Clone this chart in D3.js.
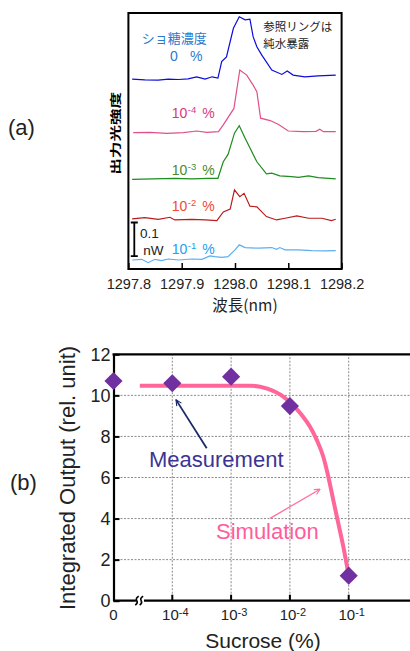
<!DOCTYPE html>
<html>
<head>
<meta charset="utf-8">
<script src="https://cdn.jsdelivr.net/npm/d3@7"></script>
<style>
  body { margin: 0; background: #fff; }
  svg { display: block; font-family: "Liberation Sans", Arial, sans-serif; }
  .jp { font-family: "Noto Sans CJK JP", sans-serif; }
</style>
</head>
<body>
<div id="chart"></div>
<script>
// ---- data (a): spectra, [wavelength nm, intensity nW above own baseline]
var trace0 = [[1297.807, 0.001], [1297.831, -0.001], [1297.856, -0.002], [1297.875, 0.001], [1297.894, 0.000],
  [1297.912, 0.002], [1297.928, 0.008], [1297.944, 0.001], [1297.957, 0.008], [1297.968, 0.004],
  [1297.975, 0.053], [1297.984, 0.067], [1297.997, 0.152], [1298.008, 0.186], [1298.019, 0.177],
  [1298.028, 0.179], [1298.034, 0.127], [1298.041, 0.097], [1298.050, 0.073], [1298.069, 0.028],
  [1298.088, 0.015], [1298.098, 0.025], [1298.109, 0.013], [1298.131, 0.008], [1298.156, 0.011], [1298.189, 0.013]];
var trace4 = [[1297.809, 0.000], [1297.841, 0.001], [1297.872, -0.002], [1297.903, 0.000], [1297.928, 0.005],
  [1297.947, 0.001], [1297.969, 0.003], [1297.978, 0.023], [1297.998, 0.072], [1298.009, 0.186],
  [1298.022, 0.171], [1298.034, 0.141], [1298.041, 0.122], [1298.048, 0.043], [1298.066, 0.036],
  [1298.081, 0.025], [1298.100, 0.005], [1298.128, 0.003], [1298.152, 0.004], [1298.159, 0.010],
  [1298.166, 0.003], [1298.189, 0.003]];
var trace3 = [[1297.807, 0.000], [1297.887, 0.003], [1297.919, 0.001], [1297.950, 0.003], [1297.968, 0.003],
  [1297.978, 0.052], [1297.987, 0.074], [1297.999, 0.137], [1298.008, 0.159], [1298.019, 0.122],
  [1298.041, 0.052], [1298.059, 0.016], [1298.069, 0.018], [1298.084, 0.010], [1298.106, 0.008],
  [1298.119, 0.006], [1298.138, 0.010], [1298.156, 0.005], [1298.189, 0.001]];
var trace2 = [[1297.807, 0.001], [1297.831, 0.005], [1297.856, 0.000], [1297.878, 0.006], [1297.887, -0.002],
  [1297.919, 0.000], [1297.944, -0.002], [1297.966, -0.004], [1297.978, 0.022], [1297.991, 0.030],
  [1297.999, 0.087], [1298.009, 0.067], [1298.017, 0.077], [1298.028, 0.039], [1298.041, 0.037],
  [1298.059, 0.008], [1298.078, -0.002], [1298.094, 0.003], [1298.116, 0.010], [1298.138, 0.003],
  [1298.163, 0.003], [1298.181, -0.004], [1298.189, 0.000]];
var trace1 = [[1297.807, 0.000], [1297.825, 0.002], [1297.837, -0.008], [1297.850, 0.002], [1297.862, -0.002],
  [1297.875, 0.003], [1297.894, 0.000], [1297.919, 0.003], [1297.938, 0.002], [1297.953, 0.012],
  [1297.962, 0.010], [1297.975, 0.008], [1297.987, 0.010], [1298.000, 0.030], [1298.008, 0.045],
  [1298.019, 0.037], [1298.044, 0.035], [1298.069, 0.037], [1298.078, 0.032], [1298.084, 0.037],
  [1298.094, 0.030], [1298.119, 0.030], [1298.144, 0.028], [1298.169, 0.027], [1298.189, 0.028]];

var traces = [trace0, trace4, trace3, trace2, trace1];
var traceOffsets = [0.5626, 0.4047, 0.2663, 0.1476, 0.0267];
var traceColors = ["#0c0cdc", "#e0508a", "#1e8c1e", "#b81c1c", "#5aaef2"];
var wlTicks = [1297.8, 1297.9, 1298.0, 1298.1, 1298.2];

// ---- data (b): integrated output vs sucrose
var sucrose = [0, 1e-4, 1e-3, 1e-2, 1e-1];
var measured = [10.70, 10.59, 10.91, 9.48, 1.22];
var simX = [2.8e-5, 2.1e-3, 4.0e-3, 7.7e-3, 1.59e-2, 2.2e-2, 2.86e-2, 3.7e-2, 4.5e-2, 5.47e-2, 6.65e-2, 8.1e-2, 1e-1];
var simY = [10.47, 10.47, 10.34, 9.94, 9.04, 8.47, 7.83, 7.01, 6.04, 4.90, 3.77, 2.63, 1.22];
var yTicksB = [0, 2, 4, 6, 8, 10, 12];
var xExpB = [-4, -3, -2, -1];

var W = 410, H = 651;
var svg = d3.select("#chart").append("svg")
    .attr("width", W)
    .attr("height", H);

svg.append("defs").selectAll("marker")
    .data([["arrNavy", "#1a2a6a"], ["arrPink", "#ff6fa0"]])
    .enter().append("marker")
    .attr("id", function (d) { return d[0]; })
    .attr("viewBox", "0 0 10 10")
    .attr("refX", 9).attr("refY", 5)
    .attr("markerWidth", 7).attr("markerHeight", 7)
    .attr("markerUnits", "userSpaceOnUse")
    .attr("orient", "auto")
    .append("path")
    .attr("d", "M1,1 L9,5 L1,9")
    .attr("fill", "none")
    .attr("stroke", function (d) { return d[1]; })
    .attr("stroke-width", 1.6);

// ================= panel (a) =================
var xA = d3.scaleLinear().domain([1297.8, 1298.2]).range([128.4, 341.6]);
var yA = d3.scaleLinear().domain([0, 0.76]).range([269, 13]);

var panelA = svg.append("g");

var axA = panelA.append("g")
    .attr("transform", "translate(0," + yA(0) + ")")
    .call(d3.axisBottom(xA).tickValues(wlTicks).tickSizeInner(-6).tickSizeOuter(0)
        .tickPadding(10).tickFormat(d3.format(".1f")));
axA.select(".domain").remove();
axA.selectAll(".tick line").attr("stroke", "#000").attr("stroke-width", 1.5);
axA.selectAll(".tick text").attr("font-size", 14.5).attr("fill", "#222")
    .attr("font-family", "Liberation Sans, Arial, sans-serif");

// the spectra
traces.forEach(function (tr, i) {
    var line = d3.line()
        .x(function (d) { return xA(d[0]); })
        .y(function (d) { return yA(d[1] + traceOffsets[i]); });
    panelA.append("path")
        .datum(tr)
        .attr("d", line)
        .attr("fill", "none")
        .attr("stroke", traceColors[i])
        .attr("stroke-width", 1.2);
});

// frame
panelA.append("rect")
    .attr("x", xA(1297.8)).attr("y", yA(0.76))
    .attr("width", xA(1298.2) - xA(1297.8))
    .attr("height", yA(0) - yA(0.76))
    .attr("fill", "none")
    .attr("stroke", "#000")
    .attr("stroke-width", 2);

// scale bar 0.1 nW
var sbx = 134.3;
panelA.append("path")
    .attr("d", "M" + (sbx - 3.5) + "," + yA(0.138) + "H" + (sbx + 3.5) +
        "M" + sbx + "," + yA(0.138) + "V" + yA(0.038) +
        "M" + (sbx - 3.5) + "," + yA(0.038) + "H" + (sbx + 3.5))
    .attr("stroke", "#000").attr("stroke-width", 1.8).attr("fill", "none");
panelA.append("text").attr("x", 140).attr("y", 238.3).attr("font-size", 13.5).attr("fill", "#222").text("0.1");
panelA.append("text").attr("x", 143.3).attr("y", 255).attr("font-size", 13.5).attr("fill", "#222").text("nW");

// concentration labels with superscripts
function supLabel(g, x, y, exp, color) {
    var t = g.append("text").attr("x", x).attr("y", y).attr("font-size", 14).attr("fill", color);
    t.append("tspan").text("10");
    t.append("tspan").attr("dy", -5).attr("dx", 0.5).attr("font-size", 9.5).text(exp);
    t.append("tspan").attr("dy", 5).attr("dx", 6).text("%");
}
supLabel(panelA, 171.7, 118.3, "-4", "#d8387e");
supLabel(panelA, 171.7, 175, "-3", "#4d8a2a");
supLabel(panelA, 171.7, 211, "-2", "#f04a30");
supLabel(panelA, 171.7, 254, "-1", "#20a0f0");

panelA.append("text").attr("class", "jp").attr("x", 141.7).attr("y", 43.3)
    .attr("font-size", 13).attr("fill", "#2a7acc").text("ショ糖濃度");
panelA.append("text").attr("x", 170).attr("y", 61).attr("font-size", 14).attr("fill", "#2a7acc").text("0");
panelA.append("text").attr("x", 190).attr("y", 61).attr("font-size", 14).attr("fill", "#2a7acc").text("%");

// two-line note
panelA.append("text").attr("class", "jp").attr("x", 263.3).attr("y", 31)
    .attr("font-size", 11.5).attr("fill", "#222").text("参照リングは");
panelA.append("text").attr("class", "jp").attr("x", 263.3).attr("y", 48)
    .attr("font-size", 11.5).attr("fill", "#222").text("純水暴露");

panelA.append("text").attr("class", "jp")
    .attr("transform", "translate(120,133.3) rotate(-90)")
    .attr("text-anchor", "middle")
    .attr("font-size", 11).attr("font-weight", "bold")
    .attr("textLength", 83).attr("lengthAdjust", "spacingAndGlyphs")
    .text("出力光強度");

panelA.append("text").attr("class", "jp")
    .attr("x", 245).attr("y", 310.5)
    .attr("text-anchor", "middle").attr("font-size", 15.5).attr("fill", "#222")
    .text("波長(nm)");

svg.append("text").attr("x", 8).attr("y", 135).attr("font-size", 22).attr("fill", "#222").text("(a)");

// ================= panel (b) =================
var xB = d3.scaleLog().domain([1e-5, 1]).range([113.5, 407.5]);
var yB = d3.scaleLinear().domain([0, 12]).range([600.7, 354.3]);
// the "0" concentration sits on the broken axis origin
function xPos(c) { return c === 0 ? xB.range()[0] : xB(c); }

var panelB = svg.append("g");

// dotted grid
panelB.selectAll(".hgrid")
    .data(yTicksB.filter(function (d) { return d > 0 && d < 12; }))
    .enter().append("line")
    .attr("x1", xB.range()[0]).attr("x2", W + 5)
    .attr("y1", function (d) { return yB(d); })
    .attr("y2", function (d) { return yB(d); })
    .attr("stroke", "#8a8a8a").attr("stroke-width", 1).attr("stroke-dasharray", "2,1.5");
panelB.selectAll(".vgrid")
    .data(xExpB)
    .enter().append("line")
    .attr("x1", function (d) { return xB(Math.pow(10, d)); })
    .attr("x2", function (d) { return xB(Math.pow(10, d)); })
    .attr("y1", yB(0)).attr("y2", yB(12))
    .attr("stroke", "#8a8a8a").attr("stroke-width", 1).attr("stroke-dasharray", "2,1.5");

// y axis
var axYB = panelB.append("g")
    .attr("transform", "translate(" + xB.range()[0] + ",0)")
    .call(d3.axisLeft(yB).tickValues(yTicksB).tickSizeInner(-6).tickSizeOuter(0).tickPadding(3));
axYB.select(".domain").attr("stroke-width", 2.2);
axYB.selectAll(".tick line").attr("stroke-width", 2);
axYB.selectAll(".tick text").attr("font-size", 18).attr("fill", "#222")
    .attr("font-family", "Liberation Sans, Arial, sans-serif");

// x axis line, top border, ticks
panelB.append("line")
    .attr("x1", xB.range()[0]).attr("x2", W + 5)
    .attr("y1", yB(0)).attr("y2", yB(0))
    .attr("stroke", "#000").attr("stroke-width", 2.2);
panelB.append("line")
    .attr("x1", xB.range()[0] - 1).attr("x2", W + 5)
    .attr("y1", yB(12)).attr("y2", yB(12))
    .attr("stroke", "#000").attr("stroke-width", 2.2);
panelB.selectAll(".xtick")
    .data(xExpB)
    .enter().append("line")
    .attr("x1", function (d) { return xB(Math.pow(10, d)); })
    .attr("x2", function (d) { return xB(Math.pow(10, d)); })
    .attr("y1", yB(0)).attr("y2", yB(0) - 6)
    .attr("stroke", "#000").attr("stroke-width", 2);

// axis break
var bx = xB(Math.pow(10, -4.55));
panelB.append("rect")
    .attr("x", bx - 4).attr("y", yB(0) - 4).attr("width", 8).attr("height", 8)
    .attr("fill", "#fff");
[-2.2, 2.2].forEach(function (dx) {
    panelB.append("path")
        .attr("d", "M" + (bx + dx - 2.5) + "," + (yB(0) + 4.5) +
            " q 3,-2 1.5,-4.5 q -1.5,-2.5 2,-4.5")
        .attr("fill", "none").attr("stroke", "#000").attr("stroke-width", 1.6);
});

// x tick labels
panelB.append("text").attr("x", xB.range()[0]).attr("y", 620)
    .attr("text-anchor", "middle").attr("font-size", 15).attr("fill", "#222").text("0");
xExpB.forEach(function (e) {
    var t = panelB.append("text")
        .attr("x", xB(Math.pow(10, e)) + 3).attr("y", 620)
        .attr("text-anchor", "middle").attr("font-size", 15).attr("fill", "#222");
    t.append("tspan").text("10");
    t.append("tspan").attr("dy", -4.5).attr("font-size", 11).text("-" + (-e));
});

// simulation curve
var simLine = d3.line()
    .x(function (d) { return xB(d[0]); })
    .y(function (d) { return yB(d[1]); })
    .curve(d3.curveMonotoneX);
panelB.append("path")
    .datum(simX.map(function (x, i) { return [x, simY[i]]; }))
    .attr("d", simLine)
    .attr("fill", "none")
    .attr("stroke", "#ff6699")
    .attr("stroke-width", 4);

// measured diamonds
panelB.selectAll(".pt")
    .data(sucrose)
    .enter().append("path")
    .attr("d", d3.symbol().type(d3.symbolSquare).size(165))
    .attr("transform", function (d, i) {
        return "translate(" + xPos(d) + "," + yB(measured[i]) + ") rotate(45)";
    })
    .attr("fill", "#7030a0");

// annotations
panelB.append("line")
    .attr("x1", xB(3.85e-4)).attr("y1", yB(7.42))
    .attr("x2", xB(1.16e-4)).attr("y2", yB(9.78))
    .attr("stroke", "#1a2a6a").attr("stroke-width", 1.8)
    .attr("marker-end", "url(#arrNavy)");
panelB.append("text").attr("x", 149).attr("y", 466.7)
    .attr("font-size", 22).attr("fill", "#3c3494").text("Measurement");

panelB.append("line")
    .attr("x1", xB(4.6e-3)).attr("y1", yB(4.01))
    .attr("x2", xB(3.25e-2)).attr("y2", yB(5.43))
    .attr("stroke", "#ff6fa0").attr("stroke-width", 1.3)
    .attr("marker-end", "url(#arrPink)");
panelB.append("text").attr("x", 216).attr("y", 539)
    .attr("font-size", 22).attr("fill", "#ff5c9c").text("Simulation");

// axis titles
panelB.append("text")
    .attr("transform", "translate(75,478) rotate(-90)")
    .attr("text-anchor", "middle").attr("font-size", 22).attr("fill", "#222")
    .text("Integrated Output (rel. unit)");
panelB.append("text")
    .attr("x", 263).attr("y", 648)
    .attr("text-anchor", "middle").attr("font-size", 21).attr("fill", "#222")
    .text("Sucrose (%)");

svg.append("text").attr("x", 10).attr("y", 490).attr("font-size", 22).attr("fill", "#222").text("(b)");
</script>
</body>
</html>
